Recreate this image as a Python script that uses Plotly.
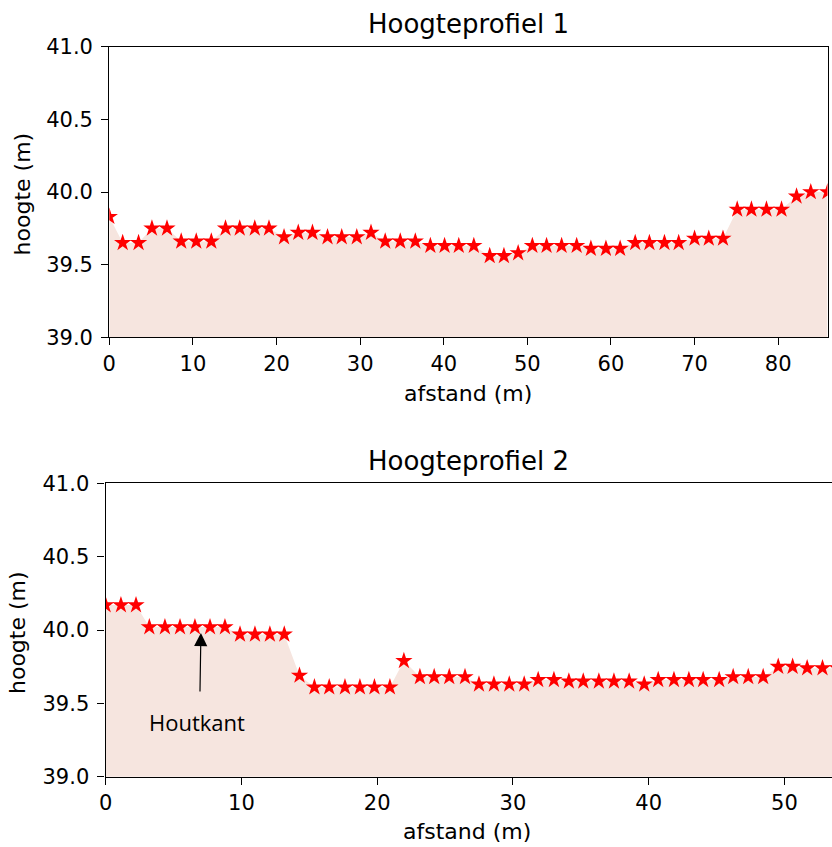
import plotly.graph_objects as go

# ---------------- data ----------------
afstand_1 = [0, 1.6, 3.5, 5.1, 6.9, 8.6, 10.4, 12.2, 13.9, 15.6, 17.4, 19.1, 20.9, 22.6, 24.3,
             26.1, 27.8, 29.6, 31.3, 33.0, 34.8, 36.6, 38.4, 40.1, 41.8, 43.6, 45.5, 47.2, 48.9,
             50.6, 52.3, 54.1, 55.9, 57.6, 59.4, 61.1, 62.9, 64.6, 66.4, 68.1, 70.0, 71.7, 73.4,
             75.1, 76.8, 78.6, 80.4, 82.2, 83.9, 85.9]
hoogte_1 = [39.83, 39.65, 39.65, 39.75, 39.75, 39.66, 39.66, 39.66, 39.75, 39.75, 39.75, 39.75,
            39.69, 39.72, 39.72, 39.69, 39.69, 39.69, 39.72, 39.66, 39.66, 39.66, 39.63, 39.63,
            39.63, 39.63, 39.56, 39.56, 39.58, 39.63, 39.63, 39.63, 39.63, 39.61, 39.61, 39.61,
            39.65, 39.65, 39.65, 39.65, 39.68, 39.68, 39.68, 39.88, 39.88, 39.88, 39.88, 39.97,
            40.0, 40.0]

afstand_2 = [0, 1.13, 2.24, 3.22, 4.37, 5.48, 6.58, 7.69, 8.79, 9.9, 11.0, 12.1, 13.16, 14.28,
             15.38, 16.47, 17.63, 18.73, 19.8, 20.94, 21.97, 23.15, 24.2, 25.31, 26.47, 27.5,
             28.6, 29.73, 30.83, 31.86, 33.02, 34.12, 35.18, 36.33, 37.44, 38.56, 39.67, 40.7,
             41.86, 42.96, 44.01, 45.19, 46.22, 47.33, 48.43, 49.54, 50.6, 51.67, 52.8, 53.9]
hoogte_2 = [40.17, 40.17, 40.17, 40.02, 40.02, 40.02, 40.02, 40.02, 40.02, 39.97, 39.97, 39.97,
            39.97, 39.69, 39.61, 39.61, 39.61, 39.61, 39.61, 39.61, 39.79, 39.68, 39.68, 39.68,
            39.68, 39.63, 39.63, 39.63, 39.63, 39.66, 39.66, 39.65, 39.65, 39.65, 39.65, 39.65,
            39.63, 39.66, 39.66, 39.66, 39.66, 39.66, 39.68, 39.68, 39.68, 39.75, 39.75, 39.74,
            39.74, 39.74]

titels = ["Hoogteprofiel 1", "Hoogteprofiel 2"]
x_label = "afstand (m)"
y_label = "hoogte (m)"
y_range = [39.0, 41.0]
x_range_1 = [0, 85.9]
x_range_2 = [0, 53.5]
houtkant_punt = (7.02, 39.98)
houtkant_staart = (6.95, 39.57)
houtkant_tekst = (6.7, 39.37)

# ---------------- style ----------------
W, H = 832, 847
FILL = "rgb(246,229,223)"
FONT = "DejaVu Sans"
TICK_FS = 21
LABEL_FS = 22
TITLE_FS = 26


def xp(px):
    return px / W


def yp(py):
    return 1 - py / H


fig = go.Figure()

for xs, ys, xa, ya in [(afstand_1, hoogte_1, "x", "y"), (afstand_2, hoogte_2, "x2", "y2")]:
    fig.add_trace(go.Scatter(x=xs, y=ys, mode="lines", line=dict(width=0, color=FILL),
                             fill="tozeroy", fillcolor=FILL, xaxis=xa, yaxis=ya,
                             hoverinfo="skip", showlegend=False))
    fig.add_trace(go.Scatter(x=xs, y=ys, mode="markers",
                             marker=dict(symbol="star", size=13, color="red",
                                         line=dict(width=0)),
                             xaxis=xa, yaxis=ya, showlegend=False, cliponaxis=True))

axis_common = dict(showline=True, linecolor="black", linewidth=1.3, ticks="outside",
                   ticklen=7, tickwidth=1.2, tickcolor="black", showgrid=False,
                   zeroline=False, tickfont=dict(family=FONT, size=TICK_FS, color="black"),
                   automargin=False)

# plot-area pixel boxes (left, right, top, bottom)
box1 = (109.3, 827.5, 46.7, 337.3)
box2 = (105.6, 832.0, 483.3, 776.7)

fig.update_layout(
    width=W, height=H,
    margin=dict(l=0, r=0, t=0, b=0),
    paper_bgcolor="white", plot_bgcolor="white",
    showlegend=False,
    xaxis=dict(domain=[xp(box1[0]), xp(box1[1])], range=x_range_1, dtick=10, mirror=True,
               anchor="y", **axis_common),
    yaxis=dict(domain=[yp(box1[3]), yp(box1[2])], range=y_range, dtick=0.5, tickformat=".1f",
               mirror=True, anchor="x", ticklabelstandoff=4, **axis_common),
    xaxis2=dict(domain=[xp(box2[0]), xp(box2[1])], range=x_range_2, dtick=10, mirror=True,
                anchor="y2", **axis_common),
    yaxis2=dict(domain=[yp(box2[3]), yp(box2[2])], range=y_range, dtick=0.5, tickformat=".1f",
                mirror=False, anchor="x2", ticklabelstandoff=4, **axis_common),
)

annotations = []
# titles
for titel, cx, ty in [(titels[0], (box1[0] + box1[1]) / 2, 24), (titels[1], 468, 461)]:
    annotations.append(dict(text=titel, x=xp(cx), y=yp(ty), xref="paper",
                            yref="paper", showarrow=False, xanchor="center", yanchor="middle",
                            font=dict(family=FONT, size=TITLE_FS, color="black")))
# x labels
for cx, ty in [((box1[0] + box1[1]) / 2, 393), (467, 831)]:
    annotations.append(dict(text=x_label, x=xp(cx), y=yp(ty), xref="paper", yref="paper",
                            showarrow=False, xanchor="center", yanchor="middle",
                            font=dict(family=FONT, size=LABEL_FS, color="black")))
# y labels
for cx, cy in [(22.7, 193.7), (17.5, 632.5)]:
    annotations.append(dict(text=y_label, x=xp(cx), y=yp(cy), xref="paper", yref="paper",
                            showarrow=False, xanchor="center", yanchor="middle", textangle=-90,
                            font=dict(family=FONT, size=LABEL_FS, color="black")))
# Houtkant arrow + label
annotations.append(dict(text="", x=houtkant_punt[0], y=houtkant_punt[1], xref="x2", yref="y2",
                        ax=houtkant_staart[0], ay=houtkant_staart[1], axref="x2", ayref="y2",
                        showarrow=True, arrowhead=2, arrowsize=2.2, arrowwidth=1.2,
                        arrowcolor="black"))
annotations.append(dict(text="Houtkant", x=houtkant_tekst[0], y=houtkant_tekst[1], xref="x2",
                        yref="y2", showarrow=False, xanchor="center", yanchor="middle",
                        font=dict(family="Open Sans", size=22, color="black")))
fig.update_layout(annotations=annotations)

fig.write_html("out.html", config={"displayModeBar": False},
               post_script="document.body.style.margin='0px';")
